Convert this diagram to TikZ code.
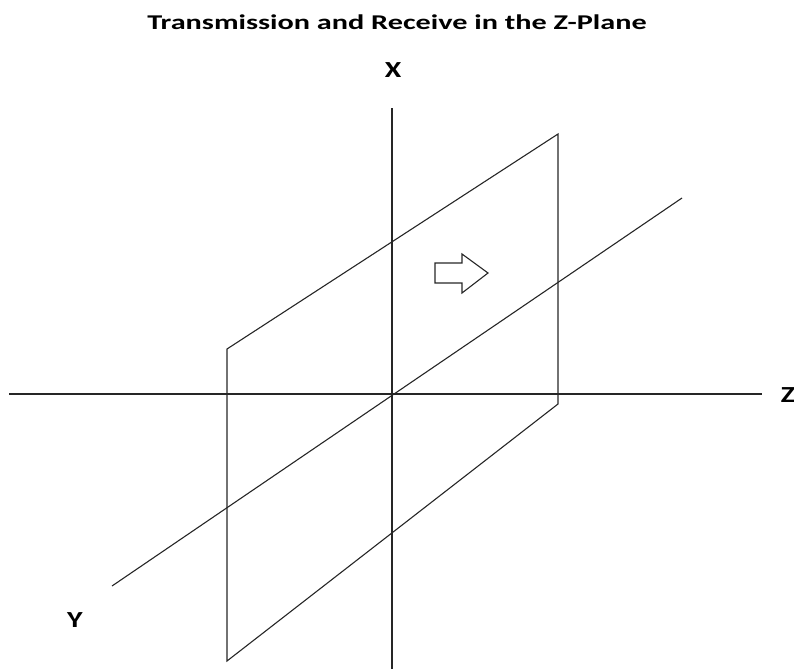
\documentclass[tikz,border=0pt]{standalone}
\usepackage{fontspec}
\setmainfont{Carlito}
\usetikzlibrary{calc}

\tikzset{
    axis/.style={line width=1.1pt,black!85},
    planeline/.style={line width=1.1pt,black!85,line join=miter},
    axlabel/.style={font=\bfseries\fontsize{23}{26}\selectfont,inner sep=0pt,xscale=1.3},
    titletext/.style={font=\bfseries\fontsize{21}{24}\selectfont,inner sep=0pt,xscale=1.44}
}

\begin{document}
\begin{tikzpicture}[x=1pt,y=-1pt]
    \useasboundingbox (0,0) rectangle (794,669);
    \node[titletext] (title) at (397,22) {Transmission and Receive in the Z-Plane};
    % axes
    \coordinate (xtop) at (392,108);
    \coordinate (xbot) at (392,669);
    \coordinate (zleft) at (9,394);
    \coordinate (zright) at (762,394);
    \coordinate (yfar) at (682,198);
    \coordinate (ynear) at (112,586);
    \draw[axis] (xtop) -- (xbot);
    \draw[axis] (zleft) -- (zright);
    \draw[axis] (ynear) -- (yfar);
    \node[axlabel] (xlab) at (393,70) {X};
    \node[axlabel] (zlab) at (788,395) {Z};
    \node[axlabel] (ylab) at (75,620) {Y};
    % the plane
    \coordinate (p1) at (227,349);
    \coordinate (p2) at (558,134);
    \coordinate (p3) at (558,404);
    \coordinate (p4) at (227,661);
    \draw[planeline] (p1) -- (p2) -- (p3) -- (p4) -- cycle;
    % direction of travel
    \draw[line width=1.1pt,black!85,line join=miter]
        (435,263) -- (462,263) -- (462,254) -- (488,273) -- (462,293) -- (462,283) -- (435,283) -- cycle;
\end{tikzpicture}
\end{document}
